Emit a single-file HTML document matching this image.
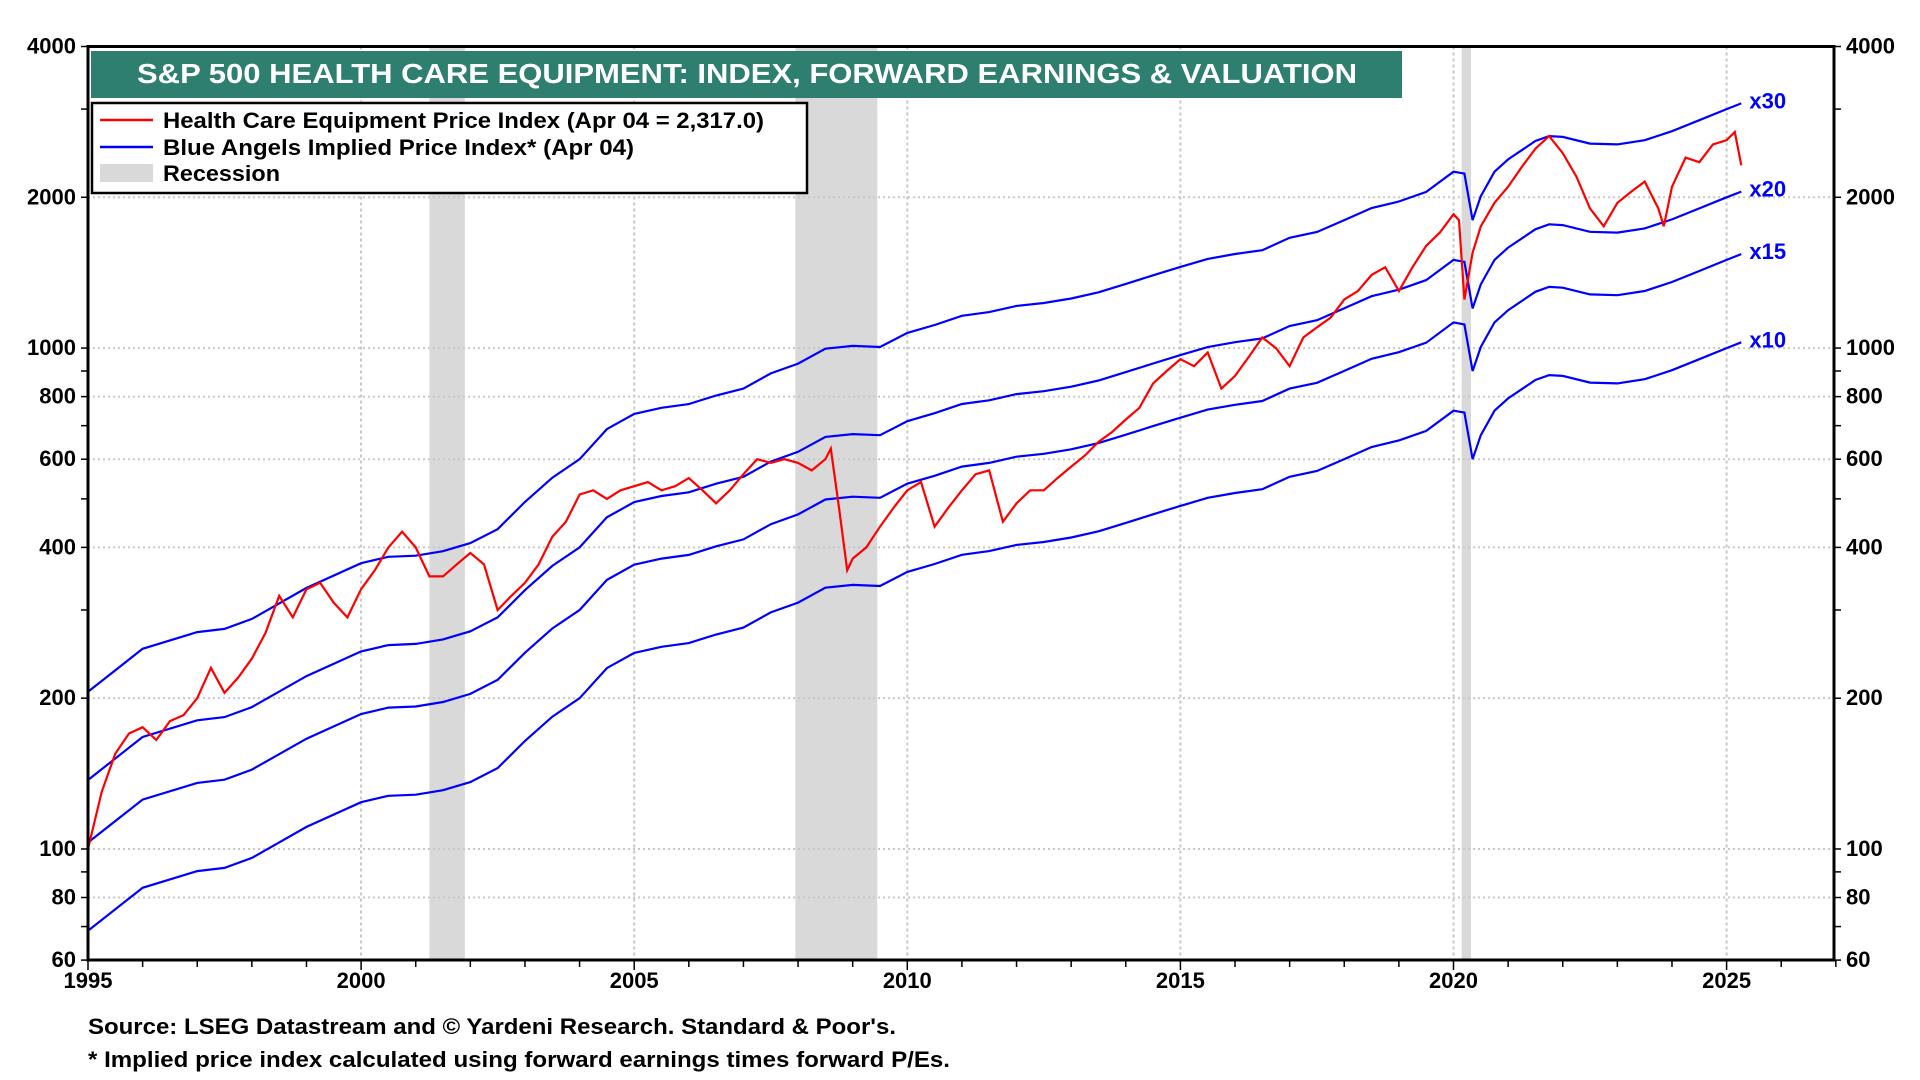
<!DOCTYPE html>
<html><head><meta charset="utf-8"><style>
html,body{margin:0;padding:0;background:#fff;}
svg{display:block;font-family:"Liberation Sans Narrow","Liberation Sans",sans-serif;font-weight:bold;}
</style></head><body>
<svg id="chart" width="1920" height="1080" viewBox="0 0 1920 1080" xmlns="http://www.w3.org/2000/svg">
<g id="recessions"></g>
<g id="grid"></g>
<g id="series"></g>
<g id="axes"></g>
<rect x="91" y="51" width="1311" height="47" fill="#2e7f6f"/>
<text x="137" y="83" font-size="28" fill="#fff" textLength="1220" lengthAdjust="spacingAndGlyphs">S&amp;P 500 HEALTH CARE EQUIPMENT: INDEX, FORWARD EARNINGS &amp; VALUATION</text>
<g>
<rect x="92" y="103" width="715" height="90" fill="#fff" stroke="#000" stroke-width="2.5"/>
<line x1="100" y1="120" x2="153" y2="120" stroke="#ff0000" stroke-width="2.5"/>
<text x="163" y="128" font-size="22" textLength="601" lengthAdjust="spacingAndGlyphs">Health Care Equipment Price Index (Apr 04 = 2,317.0)</text>
<line x1="100" y1="147" x2="153" y2="147" stroke="#0000ff" stroke-width="2.5"/>
<text x="163" y="155" font-size="22" textLength="471" lengthAdjust="spacingAndGlyphs">Blue Angels Implied Price Index* (Apr 04)</text>
<rect x="100" y="164" width="53" height="18" fill="#d9d9d9"/>
<text x="163" y="181" font-size="22" textLength="117" lengthAdjust="spacingAndGlyphs">Recession</text>
</g>
<text x="88" y="1034" font-size="22" textLength="808" lengthAdjust="spacingAndGlyphs">Source: LSEG Datastream and © Yardeni Research. Standard &amp; Poor's.</text>
<text x="88" y="1067" font-size="22" textLength="862" lengthAdjust="spacingAndGlyphs">* Implied price index calculated using forward earnings times forward P/Es.</text>
</svg>
<script>
const yTicks=[60,80,100,200,400,600,800,1000,2000,4000];
const xTicks=[1995,2000,2005,2010,2015,2020,2025];
const recessions=[[2001.25,2001.9],[2007.95,2009.45],[2020.15,2020.32]];
const multiples=[30,20,15,10];
const multLabels=["x30","x20","x15","x10"];
const impliedT=[1995,1996,1997,1997.5,1998,1999,2000,2000.5,2001,2001.5,2002,2002.5,2003,2003.5,2004,2004.5,2005,2005.5,2006,2006.5,2007,2007.5,2008,2008.5,2009,2009.5,2010,2010.5,2011,2011.5,2012,2012.5,2013,2013.5,2014,2014.5,2015,2015.5,2016,2016.5,2017,2017.5,2018,2018.5,2019,2019.5,2020,2020.2,2020.35,2020.5,2020.75,2021,2021.5,2021.75,2022,2022.5,2023,2023.5,2024,2024.5,2025,2025.27];
const implied30=[206,251,271,275,288,332,372,383,385,393,408,435,493,551,600,689,739,760,773,804,830,890,931,997,1010,1005,1072,1112,1160,1180,1214,1230,1256,1292,1343,1397,1452,1507,1541,1568,1660,1705,1801,1904,1962,2050,2250,2230,1800,2010,2250,2380,2590,2650,2640,2560,2550,2600,2710,2850,3000,3080];
const priceT=[1995,1995.25,1995.5,1995.75,1996,1996.25,1996.5,1996.75,1997,1997.25,1997.5,1997.75,1998,1998.25,1998.5,1998.75,1999,1999.25,1999.5,1999.75,2000,2000.25,2000.5,2000.75,2001,2001.25,2001.5,2001.75,2002,2002.25,2002.5,2002.75,2003,2003.25,2003.5,2003.75,2004,2004.25,2004.5,2004.75,2005,2005.25,2005.5,2005.75,2006,2006.25,2006.5,2006.75,2007,2007.25,2007.5,2007.75,2008,2008.25,2008.5,2008.6,2008.75,2008.9,2009,2009.25,2009.5,2009.75,2010,2010.25,2010.5,2010.75,2011,2011.25,2011.5,2011.75,2012,2012.25,2012.5,2012.75,2013,2013.25,2013.5,2013.75,2014,2014.25,2014.5,2014.75,2015,2015.25,2015.5,2015.75,2016,2016.25,2016.5,2016.75,2017,2017.25,2017.5,2017.75,2018,2018.25,2018.5,2018.75,2019,2019.25,2019.5,2019.75,2020,2020.1,2020.2,2020.35,2020.5,2020.75,2021,2021.25,2021.5,2021.75,2022,2022.25,2022.5,2022.75,2023,2023.25,2023.5,2023.75,2023.85,2024,2024.25,2024.5,2024.75,2025,2025.15,2025.27];
const price=[100,130,155,170,175,165,180,185,200,230,205,220,240,270,320,290,330,340,310,290,330,360,400,430,400,350,350,370,390,370,300,320,340,370,420,450,510,520,500,520,530,540,520,530,550,520,490,520,560,600,590,600,590,570,600,630,480,360,380,400,440,480,520,540,440,480,520,560,570,450,490,520,520,550,580,610,650,680,720,760,850,900,950,920,980,830,880,960,1050,1000,920,1050,1100,1150,1250,1300,1400,1450,1300,1450,1600,1700,1850,1800,1250,1550,1750,1950,2100,2300,2500,2650,2450,2200,1900,1750,1950,2050,2150,1900,1750,2100,2400,2350,2550,2600,2700,2317];

const NS="http://www.w3.org/2000/svg";
const L=88,R=1834,T=46.5,B=960,X0=1995,PX=54.62;
function X(t){return L+(t-X0)*PX;}
function Y(v){return T+(Math.log10(4000)-Math.log10(v))*500.9;}
function mk(tag,attrs,parent){const e=document.createElementNS(NS,tag);for(const k in attrs)e.setAttribute(k,attrs[k]);parent.appendChild(e);return e;}
const gR=document.getElementById('recessions'),gG=document.getElementById('grid'),gS=document.getElementById('series'),gA=document.getElementById('axes');
recessions.forEach(r=>{const e=mk('rect',{x:X(r[0]),y:T,width:X(r[1])-X(r[0]),height:B-T,fill:'#d9d9d9'},gR);

});
yTicks.forEach(v=>{const e=mk('line',{x1:L,x2:R,y1:Y(v),y2:Y(v),stroke:'#c8c8c8','stroke-width':2,'stroke-dasharray':'2,3'},gG);


const a=mk('text',{x:L-12,y:Y(v)+7,'font-size':22,'text-anchor':'end'},gA);a.textContent=v;


const b=mk('text',{x:R+12,y:Y(v)+7,'font-size':22},gA);b.textContent=v;

});
xTicks.forEach(t=>{if(t>1995){const e=mk('line',{x1:X(t),x2:X(t),y1:T,y2:B,stroke:'#c8c8c8','stroke-width':2,'stroke-dasharray':'3,3'},gG);

}
const a=mk('text',{x:X(t),y:B+28,'font-size':22,'text-anchor':'middle'},gA);a.textContent=t;

});
for(let y=1995;y<=2027;y++){mk('line',{x1:X(y),x2:X(y),y1:B,y2:B+(y%5==0?10:7),stroke:'#000','stroke-width':1.5},gA);}
[60,70,80,90,100,200,300,400,500,600,700,800,900,1000,2000,3000,4000].forEach(v=>{
mk('line',{x1:L-7,x2:L,y1:Y(v),y2:Y(v),stroke:'#000','stroke-width':1.5},gA);
mk('line',{x1:R,x2:R+7,y1:Y(v),y2:Y(v),stroke:'#000','stroke-width':1.5},gA);});
const fr=mk('rect',{x:L,y:T,width:R-L,height:B-T,fill:'none',stroke:'#000','stroke-width':3},gA);


multiples.forEach((m,i)=>{
const d=impliedT.map((t,j)=>(j?'L':'M')+X(t).toFixed(1)+','+Y(implied30[j]*m/30).toFixed(1)).join('');
const p=mk('path',{d:d,fill:'none',stroke:'#0000ff','stroke-width':2.2},gS);


const last=implied30[implied30.length-1]*m/30;
const tx=mk('text',{x:X(impliedT[impliedT.length-1])+8,y:Y(last)+5,'font-size':22,fill:'#0000ff','font-family':'Liberation Sans, sans-serif'},gS);
tx.textContent=multLabels[i];

});
const pd=priceT.map((t,j)=>(j?'L':'M')+X(t).toFixed(1)+','+Y(price[j]).toFixed(1)).join('');
const pp=mk('path',{d:pd,fill:'none',stroke:'#ff0000','stroke-width':2.2},gS);


</script>
</body></html>
